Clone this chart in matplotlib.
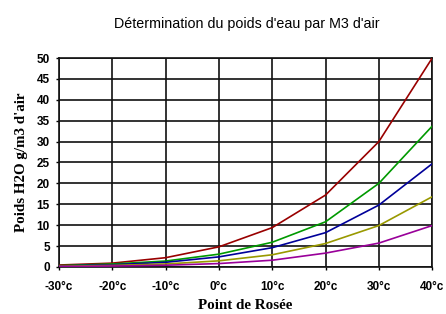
import matplotlib
matplotlib.use("Agg")
import matplotlib.pyplot as plt

temps = [-30, -20, -10, 0, 10, 20, 30, 40]
tick_labels = ["-30°c", "-20°c", "-10°c", "0°c", "10°c", "20°c", "30°c", "40°c"]
red = [0.45, 0.9, 2.2, 4.8, 9.4, 17.2, 30.0, 50.0]
green = [0.3, 0.7, 1.4, 3.05, 5.9, 10.8, 20.0, 33.7]
blue = [0.2, 0.5, 1.1, 2.4, 4.6, 8.2, 14.8, 24.7]
olive = [0.15, 0.35, 0.7, 1.45, 2.9, 5.6, 9.9, 16.8]
purple = [0.1, 0.2, 0.4, 0.8, 1.6, 3.3, 5.7, 9.9]

series = [(red, "#990000"), (green, "#009900"), (blue, "#000099"),
          (olive, "#999900"), (purple, "#990099")]

fig = plt.figure(figsize=(4.46, 3.14), dpi=100)
ax = fig.add_axes([0.132, 0.150, 0.837, 0.665])

for vals, col in series:
    ax.plot(temps, vals, color=col, lw=1.2, zorder=3)

ax.set_xlim(-30, 40)
ax.set_ylim(0, 50)
ax.set_xticks(temps)
ax.set_xticklabels(tick_labels, fontweight="bold", fontsize=8.5, family="Liberation Sans")
ax.set_yticks(range(0, 51, 5))
ax.set_yticklabels([str(v) for v in range(0, 51, 5)], fontweight="bold", fontsize=8.5, family="Liberation Sans")
ax.grid(True, color="#111111", lw=1.2, zorder=1)
for s in ax.spines.values():
    s.set_color("#111111")
    s.set_linewidth(1.2)
ax.tick_params(direction="out", length=2.5, width=1, color="black", pad=4)
ax.tick_params(axis="x", pad=8)

ax.set_xlabel("Point de Rosée", family="Liberation Serif", fontweight="bold", fontsize=10.8, labelpad=4)
ax.set_ylabel("Poids H2O g/m3 d'air", family="Liberation Serif", fontweight="bold", fontsize=10.8, labelpad=6)
fig.text(0.554, 0.925, "Détermination du poids d'eau par M3 d'air", ha="center", va="center",
         family="Liberation Sans", fontsize=10.3)

fig.savefig("out.png", dpi=100)
